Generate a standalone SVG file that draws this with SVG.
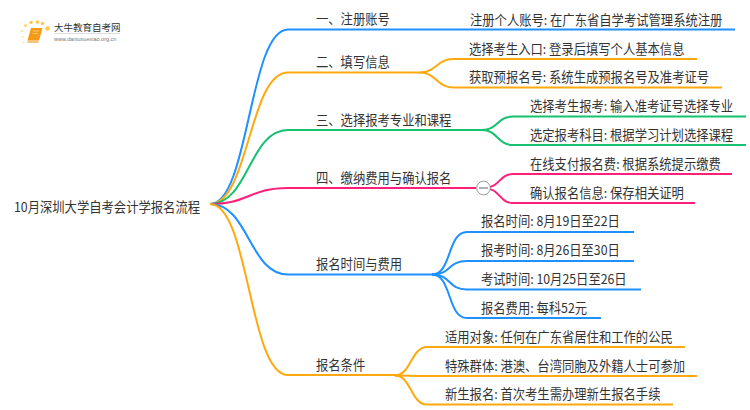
<svg xmlns="http://www.w3.org/2000/svg" width="750" height="410" viewBox="0 0 750 410">
<style>
text{font-family:"Noto Sans CJK SC","Liberation Sans",sans-serif;font-size:13.4px;fill:#333;transform-box:fill-box;transform-origin:0 50%;transform:scaleX(.92)}
text.s{transform:none}
.c{fill:none;stroke-width:2}
.b{stroke:#1e90ff}.o{stroke:#ffa90f}.g{stroke:#14c270}.p{stroke:#ff1f7a}
</style>
<rect width="750" height="410" fill="#fff"/>
<g id="logo">
<g fill="#ffc94d"><circle cx="47.500" cy="28.500" r="2.200"/><circle cx="42.500" cy="23.500" r="1.800"/><circle cx="37.500" cy="22" r="1.800"/><circle cx="31" cy="22.500" r="1.800"/><circle cx="25.500" cy="25.500" r="1.600" opacity=".8"/><circle cx="22" cy="31" r="1.300" opacity=".6"/><circle cx="22.500" cy="37" r="1.100" opacity=".5"/><circle cx="23.500" cy="42.500" r="1" opacity=".4"/></g>
<path d="M31 28h11.500l-3.500 12.500h-11.500z" fill="#f59a14"/><path d="M27.500 40.500h11.500l-.8 2.500h-10.700z" fill="#f8c27a"/><path d="M33 31h6M32.300 33.500h6" stroke="#fbd08a" stroke-width=".8"/>
<text class="s" x="54" y="31" style="font-size:9.500px">大牛教育自考网</text>
<path d="M54 33.500h66" stroke="#ddd" stroke-width="1"/>
<text class="s" x="54" y="41" style="font-size:5.500px;fill:#777;font-family:'Liberation Sans',sans-serif">www.daniuxuexiao.org.cn</text>
</g>
<g id="connectors">
<path class="c b" d="M210 204C249 204 249 29.500 288 29.500H735"/>
<path class="c o" d="M210 204C249 204 249 72.500 288 72.500H420"/>
<path class="c o" d="M420 72.500C436 72.500 437 59 453 59H697"/>
<path class="c o" d="M420 72.500C436 72.500 437 87.500 453 87.500H722"/>
<path class="c g" d="M210 204C249 204 249 130 288 130H482"/>
<path class="c g" d="M482 130C498 130 497 116.500 513 116.500H746"/>
<path class="c g" d="M482 130C498 130 497 145 513 145H746"/>
<path class="c p" d="M210 204C249 204 249 188 288 188H476"/>
<path class="c p" d="M484 188C500 188 499 174 513 174H732"/>
<path class="c p" d="M484 188C500 188 499 203 513 203H695"/>
<path class="c b" d="M210 204C249 204 249 274.500 288 274.500H432"/>
<path class="c b" d="M432 274.500C452 274.500 447 232 467 232H634"/>
<path class="c b" d="M432 274.500C452 274.500 447 261 467 261H634"/>
<path class="c b" d="M432 274.500C452 274.500 447 289.500 467 289.500H641"/>
<path class="c b" d="M432 274.500C452 274.500 447 318 467 318H601"/>
<path class="c o" d="M210 204C249 204 249 375 288 375H395"/>
<path class="c o" d="M395 375.500C411 375.500 411 347 427 347H685"/>
<path class="c o" d="M395 375.500C411 375.500 411 376 427 376H697"/>
<path class="c o" d="M395 375.500C411 375.500 411 404.500 427 404.500H673"/>
</g>
<g id="root"><text x="14" y="212">10月深圳大学自考会计学报名流程</text></g>
<g id="n1"><text x="316" y="24">一、注册账号</text></g>
<g id="n1-1"><text x="470" y="25">注册个人账号: 在广东省自学考试管理系统注册</text></g>
<g id="n2"><text x="316" y="67">二、填写信息</text></g>
<g id="n2-1"><text x="469" y="54">选择考生入口: 登录后填写个人基本信息</text></g>
<g id="n2-2"><text x="469" y="82">获取预报名号: 系统生成预报名号及准考证号</text></g>
<g id="n3"><text x="316" y="125">三、选择报考专业和课程</text></g>
<g id="n3-1"><text x="530" y="111">选择考生报考: 输入准考证号选择专业</text></g>
<g id="n3-2"><text x="530" y="140">选定报考科目: 根据学习计划选择课程</text></g>
<g id="n4"><text x="316" y="183">四、缴纳费用与确认报名</text></g>
<g id="n4-toggle"><circle cx="483.500" cy="188" r="6.800" fill="#fff" stroke="#999" stroke-width="1"/><path d="M479 188h9" stroke="#666" stroke-width="1"/></g>
<g id="n4-1"><text x="530" y="169">在线支付报名费: 根据系统提示缴费</text></g>
<g id="n4-2"><text x="530" y="198">确认报名信息: 保存相关证明</text></g>
<g id="n5"><text x="316" y="269">报名时间与费用</text></g>
<g id="n5-1"><text x="481" y="226">报名时间: 8月19日至22日</text></g>
<g id="n5-2"><text x="481" y="255">报考时间: 8月26日至30日</text></g>
<g id="n5-3"><text x="481" y="284">考试时间: 10月25日至26日</text></g>
<g id="n5-4"><text x="481" y="313">报名费用: 每科52元</text></g>
<g id="n6"><text x="316" y="370">报名条件</text></g>
<g id="n6-1"><text x="445" y="342">适用对象: 任何在广东省居住和工作的公民</text></g>
<g id="n6-2"><text x="445" y="371">特殊群体: 港澳、台湾同胞及外籍人士可参加</text></g>
<g id="n6-3"><text x="445" y="399">新生报名: 首次考生需办理新生报名手续</text></g>
</svg>
